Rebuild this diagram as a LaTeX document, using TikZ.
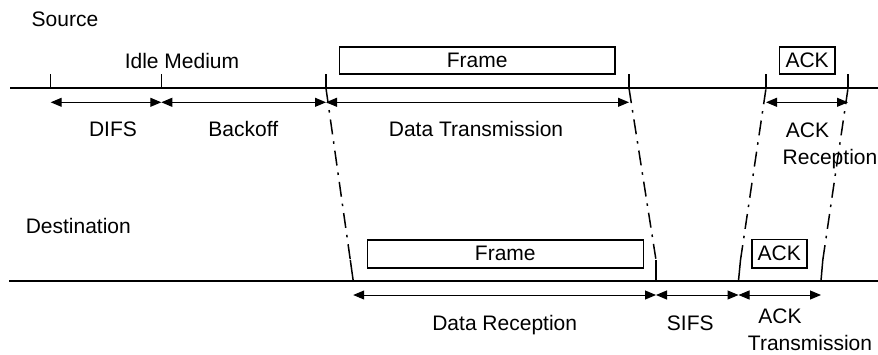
\documentclass[tikz,border=0pt]{standalone}
\usepackage{fontspec}
\setmainfont{Liberation Sans}
\usetikzlibrary{arrows.meta}
\tikzset{
  lbl/.style={anchor=base, inner sep=0pt, font=\fontsize{21}{24}\selectfont},
  framebox/.style={draw, line width=1.6pt, inner sep=0pt, font=\fontsize{21}{24}\selectfont},
  mainline/.style={line width=1.8pt},
  tickline/.style={line width=1.5pt},
  dimarrow/.style={line width=1pt, {Triangle[length=11pt,width=9pt]}-{Triangle[length=11pt,width=9pt]}},
  propline/.style={line width=1.5pt, dash pattern=on 15pt off 7pt on 2.5pt off 7pt}
}
\begin{document}
\begin{tikzpicture}[x=1pt,y=-1pt]
\useasboundingbox (0,0) rectangle (878,354);
% time lines
\coordinate (sL) at (10,88.3);
\coordinate (sR) at (878,88.3);
\coordinate (dL) at (9,280.7);
\coordinate (dR) at (878,280.7);
\draw[mainline] (sL) -- (sR);
\draw[mainline] (dL) -- (dR);
% source ticks
\foreach \n/\x in {1/50.7,2/161.3,3/326,4/629,5/766,6/848}{
  \coordinate (t\n) at (\x,74);
  \coordinate (s\n) at (\x,88.3);
  \coordinate (a\n) at (\x,102.3);
}
\foreach \n in {1,...,6}{\draw[tickline] (t\n) -- (s\n);}
% destination ticks
\coordinate (d1) at (353.2,280.7);
\coordinate (d2) at (656,280.7);
\coordinate (d3) at (738.5,280.7);
\coordinate (d4) at (821,280.7);
\coordinate (e1) at (350.3,260);
\coordinate (e2) at (656,260);
\coordinate (e3) at (740.5,260);
\coordinate (e4) at (822.8,260);
\foreach \n in {1,...,4}{\draw[tickline] (e\n) -- (d\n);}
\foreach \n/\x in {1/353.2,2/656,3/738.5,4/821}{\coordinate (b\n) at (\x,295);}
% propagation lines
\draw[propline] (s3) -- (e1);
\draw[propline] (s4) -- (e2);
\draw[propline] (e3) -- (s5);
\draw[propline] (e4) -- (s6);
% dimension arrows
\draw[dimarrow] (a1) -- (a2);
\draw[dimarrow] (a2) -- (a3);
\draw[dimarrow] (a3) -- (a4);
\draw[dimarrow] (a5) -- (a6);
\draw[dimarrow] (b1) -- (b2);
\draw[dimarrow] (b2) -- (b3);
\draw[dimarrow] (b3) -- (b4);
% frame boxes
\node[framebox, minimum width=275.7pt, minimum height=27.3pt] (frameS) at (477.15,60.35) {Frame};
\node[framebox, minimum width=55.7pt, minimum height=27.3pt] (ackS) at (807.15,60.35) {ACK};
\node[framebox, minimum width=276pt, minimum height=27.7pt] (frameD) at (505.3,253.85) {Frame};
\node[framebox, minimum width=55pt, minimum height=28.4pt] (ackD) at (779.2,253.5) {ACK};
% labels
\node[lbl] (src) at (65,26.3) {Source};
\node[lbl] (idle) at (182,68.3) {Idle Medium};
\node[lbl] (difs) at (113,136) {DIFS};
\node[lbl] (backoff) at (243.3,136) {Backoff};
\node[lbl] (datatx) at (476,136) {Data Transmission};
\node[lbl] (ackrA) at (807.5,137.3) {ACK};
\node[lbl] (ackrB) at (830,164) {Reception};
\node[lbl] (dst) at (78.3,233.3) {Destination};
\node[lbl] (datarx) at (504.7,330) {Data Reception};
\node[lbl] (sifs) at (690.3,330) {SIFS};
\node[lbl] (acktA) at (780,323.3) {ACK};
\node[lbl] (acktB) at (810,350) {Transmission};
\end{tikzpicture}
\end{document}
